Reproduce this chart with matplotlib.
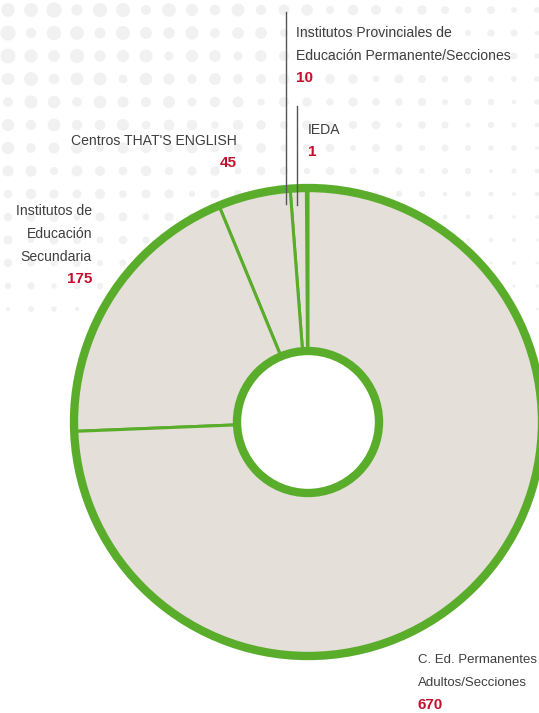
import numpy as np
import matplotlib.pyplot as plt
from matplotlib.patches import Circle

# datos (en sentido antihorario desde arriba)
categorias = ["IEDA",
              "Institutos Provinciales de\nEducación Permanente/Secciones",
              "Centros THAT'S ENGLISH",
              "Institutos de\nEducación\nSecundaria",
              "C. Ed. Permanentes\nAdultos/Secciones"]
valores = [1, 10, 45, 175, 670]

verde = "#5aad2a"
beige = "#e4dfd9"
rojo = "#c3102e"
gris = "#3f3f3f"
fuente = ["Liberation Sans", "DejaVu Sans"]

W, H = 539, 713
fig = plt.figure(figsize=(W / 100, H / 100), dpi=100)
ax = fig.add_axes([0, 0, 1, 1])
ax.set_xlim(0, W)
ax.set_ylim(0, H)
ax.set_aspect("equal")
ax.axis("off")

# fondo de puntos (decorativo)
gx, gy = np.meshgrid(np.arange(8, W, 23), np.arange(H - 10, H - 330, -23))
fade = np.clip(1 - gx / 650, 0, 1) * np.clip(1 - (H - gy) / 360, 0, 1)
tam = (60 + 80 * np.abs(np.sin(gx * 0.05 + gy * 0.03))) * fade
ax.scatter(gx.ravel(), gy.ravel(), s=tam.ravel(), color="#f1f1f1", lw=0, zorder=0)

cx, cy = 308, H - 422
r_ext = 234
r_int = 71

wedges, _ = ax.pie(valores, startangle=90, counterclock=True, center=(cx, cy),
                   radius=r_ext, colors=[beige] * len(valores),
                   wedgeprops=dict(width=r_ext - r_int, edgecolor=verde, linewidth=2.2))
ax.set_xlim(0, W)
ax.set_ylim(0, H)
ax.add_patch(Circle((cx, cy), r_ext, fill=False, ec=verde, lw=6, zorder=5))
ax.add_patch(Circle((cx, cy), r_int, fc="white", ec=verde, lw=6, zorder=5))

# lineas guia
ax.plot([286, 286], [H - 12, H - 204], color="#555555", lw=1, zorder=6)
ax.plot([297, 297], [H - 106, H - 205], color="#555555", lw=1, zorder=6)

def etiqueta(x, y, nombre, valor, ha, fs=10.1):
    lineas = nombre.split("\n")
    for i, l in enumerate(lineas):
        ax.text(x, H - (y + 23 * i), l, ha=ha, va="center", fontsize=fs,
                color=gris, family=fuente, zorder=7)
    ax.text(x, H - (y + 23 * len(lineas) - 1), str(valor), ha=ha, va="center",
            fontsize=11, color=rojo, fontweight="bold", family=fuente, zorder=7)

etiqueta(296, 33, categorias[1], valores[1], "left")
etiqueta(308, 130, categorias[0], valores[0], "left")
etiqueta(237, 141, categorias[2], valores[2], "right")
etiqueta(92, 211, categorias[3], valores[3], "right")
etiqueta(418, 660, categorias[4], valores[4], "left", fs=9.5)

fig.savefig("out.png", dpi=100)
